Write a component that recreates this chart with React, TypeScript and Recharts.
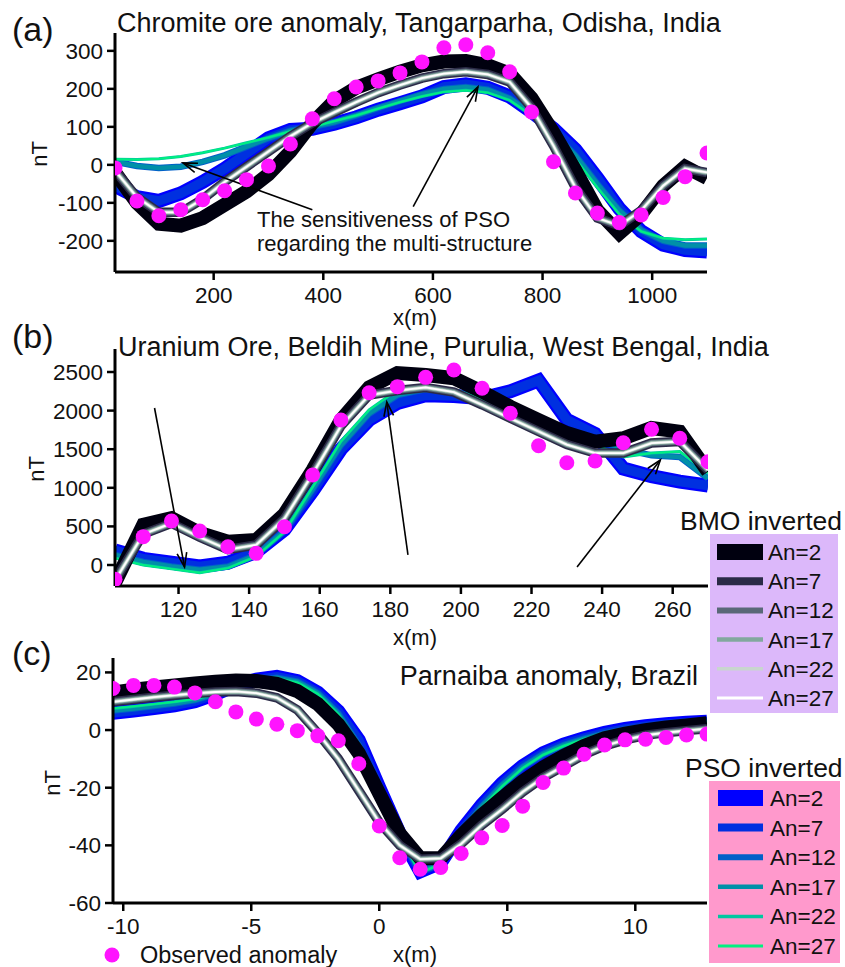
import React from 'react';
import { LineChart, Line, XAxis, YAxis, ReferenceLine } from 'recharts';

const FONT = '"Liberation Sans", Arial, Helvetica, sans-serif';

// ---------- Panel (a): Chromite ore anomaly ----------
const xA = [20, 60, 100, 140, 180, 220, 260, 300, 340, 380, 420, 460, 500, 540, 580, 620, 660, 700, 740, 780, 820, 860, 900, 940, 980, 1020, 1060, 1100];
const obsA = [-8, -95, -134, -118, -92, -68, -39, -3, 55, 121, 174, 205, 221, 242, 271, 308, 316, 295, 245, 139, 8, -74, -127, -152, -132, -86, -31, 31];
const bmoA_black = [-20, -100, -155, -160, -140, -105, -70, -25, 35, 110, 168, 203, 225, 245, 262, 272, 273, 262, 240, 175, 85, -15, -120, -180, -130, -55, -5, -35];
const bmoA_white = [-15, -85, -125, -125, -90, -45, -5, 35, 75, 110, 138, 165, 190, 210, 228, 240, 245, 238, 218, 150, 50, -60, -140, -160, -120, -55, -10, -20];
const psoA_blue = [-55, -85, -95, -75, -45, -10, 30, 70, 92, 95, 108, 125, 145, 162, 180, 205, 212, 203, 180, 140, 95, 40, -35, -115, -175, -210, -224, -228];
const psoA_teal = [8, -3, -8, -5, 8, 25, 48, 70, 90, 100, 112, 130, 150, 168, 186, 200, 205, 198, 175, 135, 85, 25, -50, -120, -172, -200, -212, -212];
const psoA_green = [15, 14, 16, 22, 32, 44, 58, 72, 88, 100, 115, 130, 148, 165, 180, 192, 196, 190, 170, 130, 75, 15, -60, -130, -175, -193, -197, -195];
const xTicksA = [200, 400, 600, 800, 1000];
const yTicksA = [-200, -100, 0, 100, 200, 300];
const arrowsA = [
  [380, -118, 144, 5],
  [564, -110, 682, 205],
];

// ---------- Panel (b): Uranium ore ----------
const xB = [102, 110, 118, 126, 134, 142, 150, 158, 166, 174, 182, 190, 198, 206, 214, 222, 230, 238, 246, 254, 262, 270];
const obsB = [-186, 367, 570, 440, 237, 151, 496, 1166, 1878, 2232, 2310, 2431, 2526, 2289, 1965, 1545, 1325, 1347, 1584, 1758, 1641, 1338];
const bmoB_black = [-230, 520, 606, 414, 302, 324, 660, 1230, 1878, 2300, 2487, 2461, 2420, 2245, 2050, 1878, 1710, 1597, 1641, 1775, 1727, 1209];
const bmoB_white = [-200, 400, 540, 360, 200, 260, 600, 1180, 1800, 2200, 2260, 2300, 2240, 2075, 1900, 1730, 1560, 1450, 1450, 1580, 1600, 1230];
const psoB_blue = [190, 80, 30, -20, 30, 170, 460, 960, 1500, 1880, 2100, 2200, 2190, 2160, 2250, 2390, 1880, 1700, 1250, 1150, 1080, 1030];
const psoB_teal = [130, 40, -20, -60, -20, 130, 440, 980, 1550, 1960, 2200, 2280, 2250, 2150, 2000, 1850, 1700, 1640, 1500, 1420, 1400, 1120];
const psoB_green = [90, 0, -50, -100, -40, 110, 430, 1010, 1600, 2010, 2267, 2320, 2270, 2150, 1990, 1830, 1680, 1560, 1400, 1450, 1470, 1190];
const xTicksB = [120, 140, 160, 180, 200, 220, 240, 260];
const yTicksB = [0, 500, 1000, 1500, 2000, 2500];
const arrowsB = [
  [113.2, 2034, 121.7, -26],
  [185, 130, 179, 2111],
  [232.9, -26, 256.5, 1360],
];

// ---------- Panel (c): Parnaiba anomaly ----------
const xC = [-10.4, -9.6, -8.8, -8, -7.2, -6.4, -5.6, -4.8, -4, -3.2, -2.4, -1.6, -0.8, 0, 0.8, 1.6, 2.4, 3.2, 4, 4.8, 5.6, 6.4, 7.2, 8, 8.8, 9.6, 10.4, 11.2, 12, 12.8];
const obsC = [14.4, 15.5, 15.5, 14.9, 12.9, 9.8, 6.3, 3.8, 2.0, -0.2, -2.0, -3.7, -11.7, -33.3, -44.3, -48.3, -47.7, -42.8, -37.4, -33.1, -26.4, -18.2, -13.2, -8.4, -5.2, -3.4, -3.2, -2.6, -1.7, -1.4];
const bmoC_black = [13, 14, 14.8, 15.5, 16.2, 16.8, 17.2, 17, 16, 13.5, 9, 2, -8, -22, -36, -44.5, -44.5, -36.5, -29.5, -23.5, -17.8, -13, -9, -5.5, -2.8, -1.2, 0, 0.9, 1.6, 2.4];
const bmoC_white = [9.8, 10.6, 11.4, 12.1, 12.7, 13.2, 13.4, 12.8, 11.2, 7, -1, -10, -21, -32, -40, -44.8, -44.5, -39.5, -33, -27.5, -21.5, -16.5, -12.5, -8.5, -5.5, -3.4, -1.8, -0.9, -0.2, 0.5];
const psoC_blue = [6, 6.8, 7.6, 8.6, 10, 12.5, 15.5, 17.5, 18.5, 17, 13, 6.5, -3.5, -20, -36, -49, -46, -35, -26, -18.5, -12.5, -8, -5, -2.8, -1, 0.4, 1.3, 2, 2.5, 2.9];
const psoC_teal = [6.8, 7.5, 8.3, 9.2, 10.4, 12.5, 15.2, 17.2, 18.1, 16.8, 12.8, 5.8, -5.2, -20.5, -36.5, -49.3, -46.3, -35.5, -26.5, -19, -12.8, -8.3, -5.2, -3, -1.2, 0.2, 1.1, 1.8, 2.3, 2.7];
const psoC_green = [7.5, 8.2, 9, 9.8, 10.8, 12.5, 15, 17, 17.8, 16.5, 12.5, 5.5, -5.5, -21, -37, -49.5, -46.5, -36, -27, -19.5, -13.2, -8.6, -5.5, -3.2, -1.4, 0, 0.9, 1.6, 2.1, 2.5];
const xTicksC = [-10, -5, 0, 5, 10];
const yTicksC = [-60, -40, -20, 0, 20];

// ---------- Series styling ----------
const anLabels = ['An=2', 'An=7', 'An=12', 'An=17', 'An=22', 'An=27'];
const bmoColors = ['#00000f', '#2b2b47', '#5a6878', '#82a89e', '#c8d6ce', '#ffffff'];
const psoColors = ['#0000ff', '#0030e0', '#0060c8', '#0090a8', '#00c8a0', '#00f080'];
const lineWidths = [14, 9.5, 6.5, 4.5, 3, 1.8];
const legendWidths = [16, 8, 6, 4.5, 3.5, 3];
const DOT = '#ff14ff';

function buildRows(xs: number[], obs: number[], bmo: number[][], pso: number[][]) {
  return xs.map((x, i) => {
    const row: any = { x, obs: obs[i] };
    bmo.forEach((s, k) => (row['b' + k] = s[i]));
    pso.forEach((s, k) => (row['p' + k] = s[i]));
    return row;
  });
}

const rowsA = buildRows(xA, obsA,
  [bmoA_black, bmoA_white, bmoA_white, bmoA_white, bmoA_white, bmoA_white],
  [psoA_blue, psoA_blue, psoA_teal, psoA_teal, psoA_green, psoA_green]);
const rowsB = buildRows(xB, obsB,
  [bmoB_black, bmoB_white, bmoB_white, bmoB_white, bmoB_white, bmoB_white],
  [psoB_blue, psoB_blue, psoB_teal, psoB_teal, psoB_green, psoB_green]);
const rowsC = buildRows(xC, obsC,
  [bmoC_black, bmoC_white, bmoC_white, bmoC_white, bmoC_white, bmoC_white],
  [psoC_blue, psoC_blue, psoC_teal, psoC_teal, psoC_green, psoC_green]);

const ArrowShape = (props: any) => {
  const { x1, y1, x2, y2 } = props;
  if ([x1, y1, x2, y2].some((v) => typeof v !== 'number' || isNaN(v))) return <g />;
  const ang = Math.atan2(y2 - y1, x2 - x1);
  const L = 15;
  const a = 0.33;
  const w1x = x2 - L * Math.cos(ang - a);
  const w1y = y2 - L * Math.sin(ang - a);
  const w2x = x2 - L * Math.cos(ang + a);
  const w2y = y2 - L * Math.sin(ang + a);
  return (
    <g>
      <line x1={x1} y1={y1} x2={x2} y2={y2} stroke="#000" strokeWidth={1.6} />
      <polyline points={`${w1x},${w1y} ${x2},${y2} ${w2x},${w2y}`} fill="none" stroke="#000" strokeWidth={1.6} />
    </g>
  );
};

type PanelProps = {
  top: number;
  height: number;
  rows: any[];
  xDomain: [number, number];
  xTicks: number[];
  yDomain: [number, number];
  yTicks: number[];
  yAxisWidth: number;
  margin: { top: number; right: number; bottom: number; left: number };
  arrows: number[][];
};

function Panel(p: PanelProps) {
  const tickStyle = { fontSize: 22.5, fill: '#111', fontFamily: FONT };
  return (
    <div style={{ position: 'absolute', left: 0, top: p.top }}>
      <LineChart width={845} height={p.height} data={p.rows} margin={p.margin}>
        <XAxis
          type="number"
          dataKey="x"
          domain={p.xDomain}
          ticks={p.xTicks}
          interval={0}
          allowDataOverflow
          height={40}
          tickSize={8}
          tickMargin={7}
          axisLine={{ stroke: '#000', strokeWidth: 3 }}
          tickLine={{ stroke: '#000', strokeWidth: 2.5 }}
          tick={tickStyle}
        />
        <YAxis
          type="number"
          domain={p.yDomain}
          ticks={p.yTicks}
          interval={0}
          allowDataOverflow
          width={p.yAxisWidth}
          tickSize={8}
          tickMargin={4}
          axisLine={{ stroke: '#000', strokeWidth: 3 }}
          tickLine={{ stroke: '#000', strokeWidth: 2.5 }}
          tick={tickStyle}
        />
        {psoColors.map((c, k) => (
          <Line
            key={'p' + k}
            dataKey={'p' + k}
            type="linear"
            stroke={c}
            strokeWidth={lineWidths[k]}
            dot={false}
            activeDot={false}
            isAnimationActive={false}
          />
        ))}
        {bmoColors.map((c, k) => (
          <Line
            key={'b' + k}
            dataKey={'b' + k}
            type="linear"
            stroke={c}
            strokeWidth={lineWidths[k]}
            dot={false}
            activeDot={false}
            isAnimationActive={false}
          />
        ))}
        <Line
          dataKey="obs"
          type="linear"
          stroke="none"
          strokeWidth={0}
          dot={{ r: 7.5, fill: DOT, stroke: 'none', strokeWidth: 0 }}
          activeDot={false}
          isAnimationActive={false}
        />
        {p.arrows.map((a, i) => (
          <ReferenceLine
            key={'ar' + i}
            segment={[{ x: a[0], y: a[1] }, { x: a[2], y: a[3] }]}
            ifOverflow="visible"
            stroke="#000"
            shape={ArrowShape}
          />
        ))}
      </LineChart>
    </div>
  );
}

function LegendBox({ title, titleX, titleY, rectX, rectY, rectW, rectH, fill, rowY0, rowStep, lineX1, lineX2, textX, colors }: any) {
  return (
    <g>
      <text x={titleX} y={titleY} fontSize={26.5} fill="#111">{title}</text>
      <rect x={rectX} y={rectY} width={rectW} height={rectH} fill={fill} />
      {anLabels.map((lab, k) => {
        const yc = rowY0 + k * rowStep;
        return (
          <g key={lab}>
            <line x1={lineX1} x2={lineX2} y1={yc} y2={yc} stroke={colors[k]} strokeWidth={legendWidths[k]} />
            <text x={textX} y={yc + 8} fontSize={22.5} fill="#111">{lab}</text>
          </g>
        );
      })}
    </g>
  );
}

export default function App() {
  return (
    <div style={{ position: 'absolute', left: 0, top: 0, width: 845, height: 967, background: '#fff', overflow: 'hidden', fontFamily: FONT }}>
      <Panel
        top={0}
        height={320}
        rows={rowsA}
        xDomain={[20, 1100]}
        xTicks={xTicksA}
        yDomain={[-282, 347]}
        yTicks={yTicksA}
        yAxisWidth={115}
        margin={{ top: 33, right: 138, bottom: 8, left: 0 }}
        arrows={arrowsA}
      />
      <Panel
        top={330}
        height={300}
        rows={rowsB}
        xDomain={[102, 270]}
        xTicks={xTicksB}
        yDomain={[-272, 2798]}
        yTicks={yTicksB}
        yAxisWidth={115}
        margin={{ top: 19, right: 137, bottom: 4, left: 0 }}
        arrows={arrowsB}
      />
      <Panel
        top={640}
        height={310}
        rows={rowsC}
        xDomain={[-10.4, 12.8]}
        xTicks={xTicksC}
        yDomain={[-60, 25]}
        yTicks={yTicksC}
        yAxisWidth={113}
        margin={{ top: 18, right: 138, bottom: 7, left: 0 }}
        arrows={[]}
      />
      <svg width={845} height={967} style={{ position: 'absolute', left: 0, top: 0, pointerEvents: 'none' }} fontFamily={FONT}>
        <text x={12} y={41} fontSize={34} fill="#111">(a)</text>
        <text x={117} y={32} fontSize={27} fill="#111">Chromite ore anomaly, Tangarparha, Odisha, India</text>
        <text transform="translate(47,154) rotate(-90)" textAnchor="middle" fontSize={22} fill="#111">nT</text>
        <text x={415} y={325} textAnchor="middle" fontSize={22} fill="#111">x(m)</text>
        <text x={257} y={227} fontSize={22} fill="#111">The sensitiveness of PSO</text>
        <text x={257} y={251} fontSize={22} fill="#111">regarding the multi-structure</text>

        <text x={12} y={348} fontSize={34} fill="#111">(b)</text>
        <text x={118} y={356} fontSize={27} fill="#111">Uranium Ore, Beldih Mine, Purulia, West Bengal, India</text>
        <text transform="translate(44,469) rotate(-90)" textAnchor="middle" fontSize={22} fill="#111">nT</text>
        <text x={415} y={645} textAnchor="middle" fontSize={22} fill="#111">x(m)</text>

        <text x={12} y={665} fontSize={34} fill="#111">(c)</text>
        <text x={698} y={685} textAnchor="end" fontSize={27} fill="#111">Parnaiba anomaly, Brazil</text>
        <text transform="translate(60,783) rotate(-90)" textAnchor="middle" fontSize={22} fill="#111">nT</text>
        <text x={415} y={962} textAnchor="middle" fontSize={22} fill="#111">x(m)</text>

        <circle cx={112} cy={955} r={7.5} fill={DOT} />
        <text x={140} y={963} fontSize={23.5} fill="#111">Observed anomaly</text>

        <LegendBox
          title="BMO inverted" titleX={680} titleY={530}
          rectX={710} rectY={534} rectW={128} rectH={179} fill="#dcb8fa"
          rowY0={552} rowStep={29.2} lineX1={717} lineX2={763} textX={768}
          colors={bmoColors}
        />
        <LegendBox
          title="PSO inverted" titleX={685} titleY={777}
          rectX={709} rectY={781} rectW={131} rectH={182} fill="#ff99cc"
          rowY0={798} rowStep={29.6} lineX1={718} lineX2={763} textX={770}
          colors={psoColors}
        />
      </svg>
    </div>
  );
}
